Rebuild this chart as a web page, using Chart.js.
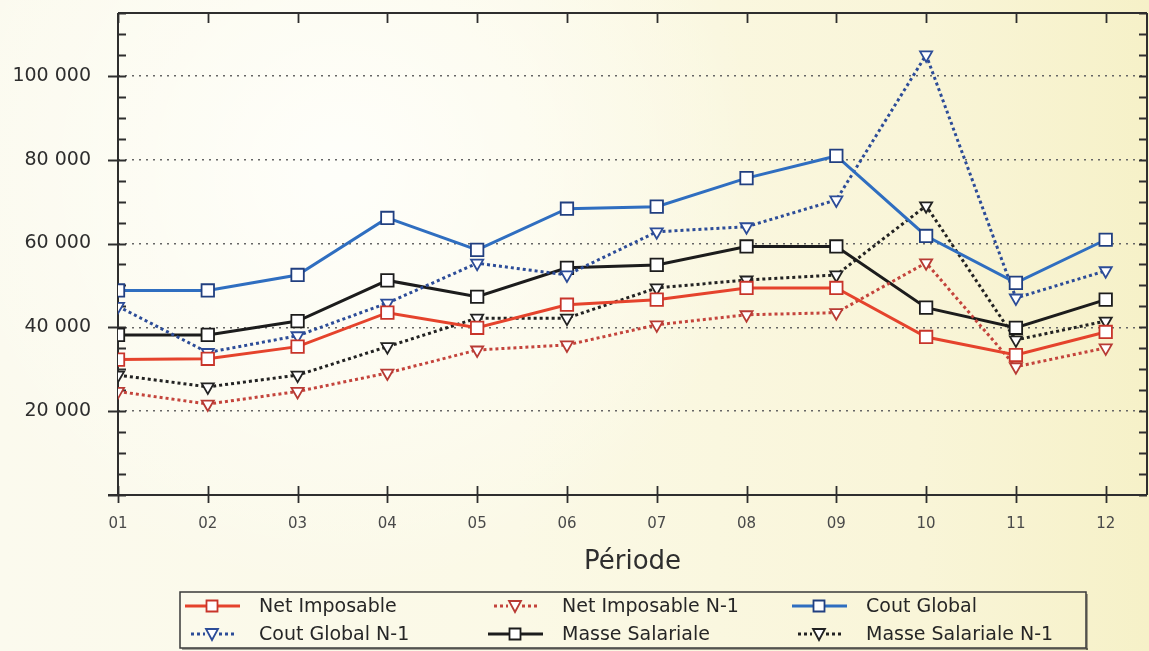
<!DOCTYPE html>
<html><head><meta charset="utf-8">
<script src="https://cdn.jsdelivr.net/npm/chart.js@4.4.1/dist/chart.umd.min.js"></script>
<style>html,body{margin:0;padding:0;overflow:hidden;background:#fbf9e8}
canvas{display:block}</style></head><body>
<canvas id="c" width="1149" height="651"></canvas>
<script>
const periods = ['01','02','03','04','05','06','07','08','09','10','11','12'];
const seriesNames = ['Net Imposable','Net Imposable N-1','Cout Global','Cout Global N-1','Masse Salariale','Masse Salariale N-1'];
const netImposable     = [32300, 32500, 35400, 43500, 39900, 45400, 46600, 49400, 49400, 37700, 33400, 38900];
const netImposableN1   = [24700, 21700, 24700, 29100, 34600, 35800, 40600, 43000, 43500, 55400, 30600, 35100];
const coutGlobal       = [48800, 48800, 52500, 66100, 58500, 68300, 68800, 75600, 80900, 61800, 50600, 60900];
const coutGlobalN1     = [45000, 34000, 38000, 45800, 55300, 52500, 62800, 64000, 70400, 105000, 47000, 53500];
const masseSalariale   = [38200, 38200, 41500, 51200, 47300, 54200, 54900, 59300, 59300, 44700, 39900, 46600];
const masseSalarialeN1 = [28600, 25800, 28600, 35400, 42200, 42200, 49400, 51300, 52500, 69000, 37000, 41500];
const yTickLabels = [20000, 40000, 60000, 80000, 100000];

const toPts = arr => arr.map((v, i) => ({x: i + 1, y: v}));
const fmt = v => String(v).replace(/\B(?=(\d{3})+(?!\d))/g, ' ');

function ds(label, data, color, ptColor, dotted) {
  return {
    label, data: toPts(data),
    borderColor: color, borderWidth: 3,
    borderDash: dotted ? [3, 3] : [],
    tension: 0,
    pointStyle: dotted ? 'triangle' : 'rect',
    rotation: dotted ? 180 : 0,
    pointRadius: dotted ? 7 : 8.8,
    pointBorderWidth: 1.8,
    pointBorderColor: ptColor,
    pointBackgroundColor: '#ffffff',
    dotted
  };
}

const datasets = [
  ds(seriesNames[0], netImposable, '#e5432c', '#c8342a', false),
  ds(seriesNames[1], netImposableN1, '#c4443c', '#b83a34', true),
  ds(seriesNames[2], coutGlobal, '#2f6ec0', '#213f80', false),
  ds(seriesNames[3], coutGlobalN1, '#2c4c98', '#2c4c98', true),
  ds(seriesNames[4], masseSalariale, '#1c1c1c', '#1c1c1c', false),
  ds(seriesNames[5], masseSalarialeN1, '#222222', '#222222', true)
];

const bgPlugin = {
  id: 'bg',
  beforeDraw(chart) {
    const {ctx, width, height} = chart;
    ctx.save();
    const g = ctx.createLinearGradient(0, 0, width, 0);
    g.addColorStop(0, '#fbfaee');
    g.addColorStop(0.45, '#fbf9e6');
    g.addColorStop(0.8, '#f9f5d8');
    g.addColorStop(1, '#f6f1c8');
    ctx.fillStyle = g;
    ctx.fillRect(0, 0, width, height);
    const r = ctx.createRadialGradient(340, 170, 20, 340, 170, 420);
    r.addColorStop(0, 'rgba(255,255,252,0.85)');
    r.addColorStop(1, 'rgba(255,255,252,0)');
    ctx.fillStyle = r;
    ctx.fillRect(0, 0, width, height);
    ctx.restore();
  }
};

const framePlugin = {
  id: 'frame',
  beforeDatasetsDraw(chart) {
    const {ctx, chartArea: a, scales: {x, y}} = chart;
    ctx.save();
    ctx.strokeStyle = '#2e2e2e';
    ctx.lineWidth = 2;
    ctx.beginPath();
    ctx.moveTo(a.left, a.top); ctx.lineTo(a.right, a.top);
    ctx.moveTo(a.left, a.top); ctx.lineTo(a.left, a.bottom + 1);
    ctx.moveTo(a.left - 10, a.bottom); ctx.lineTo(a.right, a.bottom);
    ctx.moveTo(a.right, a.top); ctx.lineTo(a.right, a.bottom);
    ctx.stroke();
    ctx.lineWidth = 1.8;
    ctx.beginPath();
    for (let v = 0; v <= 115000; v += 5000) {
      const py = Math.round(y.getPixelForValue(v)) + 0.5;
      const major = v % 20000 === 0;
      ctx.moveTo(major ? a.left - 10 : a.left, py);
      ctx.lineTo(a.left + 8, py);
      ctx.moveTo(a.right - 8, py);
      ctx.lineTo(a.right, py);
    }
    periods.forEach((p, i) => {
      const px = Math.round(x.getPixelForValue(i + 1)) + 0.5;
      ctx.moveTo(px, a.bottom - 9); ctx.lineTo(px, a.bottom + 8);
      ctx.moveTo(px, a.top); ctx.lineTo(px, a.top + 10);
    });
    ctx.stroke();
    ctx.restore();
  }
};

const legendPlugin = {
  id: 'boxLegend',
  afterDraw(chart) {
    const {ctx} = chart;
    const box = {l: 180, t: 592, r: 1086, b: 648};
    ctx.save();
    ctx.fillStyle = 'rgba(0,0,0,0.35)';
    ctx.fillRect(box.l + 2, box.b, box.r - box.l, 2);
    ctx.fillRect(box.r, box.t + 2, 2, box.b - box.t);
    ctx.strokeStyle = '#3a3a3a';
    ctx.lineWidth = 1.5;
    ctx.strokeRect(box.l, box.t, box.r - box.l, box.b - box.t);
    const colX = [185, 488, 792];
    const rowY = [606, 634];
    chart.data.datasets.forEach((d, i) => {
      const sx = colX[i % 3], sy = rowY[Math.floor(i / 3)];
      ctx.save();
      ctx.strokeStyle = d.borderColor;
      ctx.lineWidth = 3;
      if (d.dotted) {
        ctx.setLineDash([3, 3]);
        ctx.beginPath();
        ctx.moveTo(sx + 6, sy); ctx.lineTo(sx + 20, sy);
        ctx.moveTo(sx + 34, sy); ctx.lineTo(sx + 49, sy);
        ctx.stroke();
      } else {
        ctx.beginPath();
        ctx.moveTo(sx, sy); ctx.lineTo(sx + 55, sy);
        ctx.stroke();
      }
      ctx.restore();
      ctx.save();
      ctx.fillStyle = '#ffffff';
      ctx.strokeStyle = d.pointBorderColor;
      ctx.lineWidth = 1.8;
      ctx.beginPath();
      if (d.dotted) {
        ctx.moveTo(sx + 21, sy - 5); ctx.lineTo(sx + 33, sy - 5); ctx.lineTo(sx + 27, sy + 6); ctx.closePath();
      } else {
        ctx.rect(sx + 21.5, sy - 5.5, 11, 11);
      }
      ctx.fill(); ctx.stroke();
      ctx.restore();
      ctx.fillStyle = '#262626';
      ctx.font = '19px "DejaVu Sans"';
      ctx.textBaseline = 'middle';
      ctx.textAlign = 'left';
      ctx.fillText(d.label, sx + 74, sy + 1);
    });
    ctx.restore();
  }
};

const noPad = s => { s.paddingTop = 0; s.paddingBottom = 0; s.paddingLeft = 0; s.paddingRight = 0; };

new Chart(document.getElementById('c'), {
  type: 'line',
  data: {datasets},
  options: {
    responsive: false,
    animation: false,
    devicePixelRatio: 1,
    layout: {autoPadding: false, padding: {top: 13, right: 2, left: 0, bottom: 0}},
    plugins: {legend: {display: false}, tooltip: {enabled: false}},
    scales: {
      x: {
        type: 'linear', position: 'bottom', min: 1, max: 12.46,
        afterBuildTicks: s => { s.ticks = periods.map((p, i) => ({value: i + 1})); },
        afterFit: s => { s.height = 156; noPad(s); },
        ticks: {
          autoSkip: false, maxRotation: 0,
          callback: v => periods[v - 1] ?? '',
          font: {family: 'DejaVu Sans', size: 15}, color: '#4a4a4a', padding: 20
        },
        grid: {display: true, drawOnChartArea: false, drawTicks: false, color: 'rgba(0,0,0,0)'},
        border: {display: false},
        title: {
          display: true, text: 'Période', color: '#2e2e2e',
          font: {family: 'DejaVu Sans', size: 26}, padding: {top: 0, bottom: 73}
        }
      },
      y: {
        type: 'linear', position: 'left', min: 0, max: 115000,
        afterFit: s => { s.width = 118; noPad(s); },
        afterBuildTicks: s => {
          const t = [];
          for (let v = 0; v <= 115000; v += 5000) t.push({value: v});
          s.ticks = t;
        },
        ticks: {
          autoSkip: false,
          callback: v => yTickLabels.includes(v) ? fmt(v) : '',
          font: {family: 'DejaVu Sans', size: 19}, color: '#2e2e2e', padding: 27
        },
        grid: {
          drawTicks: false, lineWidth: 1.6,
          color: c => yTickLabels.includes(c.tick && c.tick.value) ? '#666' : 'rgba(0,0,0,0)'
        },
        border: {display: false, dash: [2, 5]}
      }
    }
  },
  plugins: [bgPlugin, framePlugin, legendPlugin]
});
</script>
</body></html>
